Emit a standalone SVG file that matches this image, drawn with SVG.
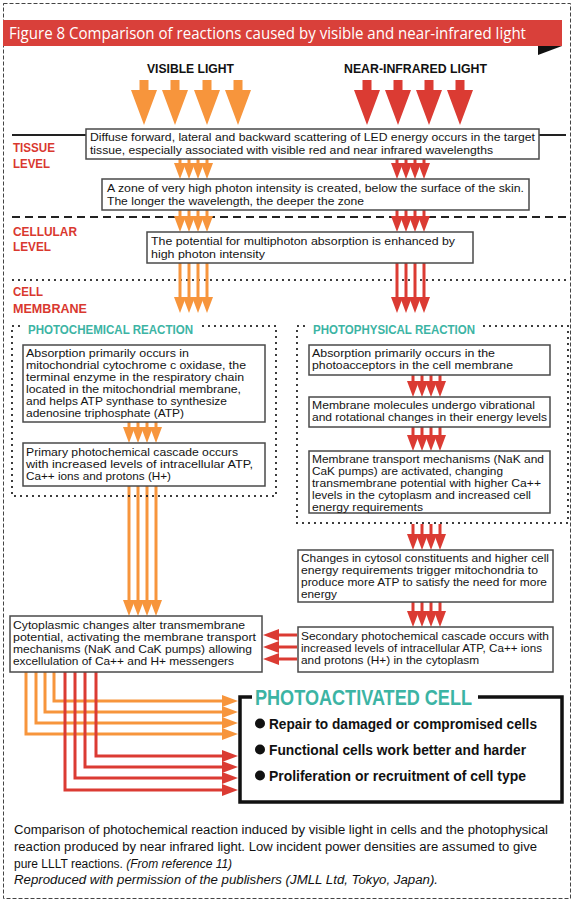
<svg xmlns="http://www.w3.org/2000/svg" width="574" height="904" viewBox="0 0 574 904">
<style>
.bg{fill:#fff}
.frame{fill:none;stroke:#444;stroke-width:1;stroke-dasharray:4 2}
.box{fill:#fff;stroke:#4a4a4a;stroke-width:1.5}
.t{font-family:"Liberation Sans",Arial,sans-serif;font-size:11px;fill:#141414}
.t2{font-family:"Liberation Sans",Arial,sans-serif;font-size:11.5px;fill:#141414}
.lvl{font-family:"Liberation Sans",Arial,sans-serif;font-weight:bold;font-size:13.5px;fill:#d9382f}
.hd{font-family:"Liberation Sans",Arial,sans-serif;font-weight:bold;font-size:13.5px;fill:#111}
.teal{font-family:"Liberation Sans",Arial,sans-serif;font-weight:bold;fill:#3cb4a4}
.bul{font-family:"Liberation Sans",Arial,sans-serif;font-weight:bold;font-size:14px;fill:#111}
.cap{font-family:"Liberation Sans",Arial,sans-serif;font-size:12px;fill:#111}
.dot{fill:none;stroke:#111;stroke-width:2.2;stroke-linecap:round;stroke-dasharray:0 6}
.dash{fill:none;stroke:#222;stroke-width:2;stroke-dasharray:8 5}
.big-o{fill:#f7953c}
.big-r{fill:#db3b33}
.ao{fill:none;stroke:#f7953c;stroke-width:3;marker-end:url(#mo)}
.ar{fill:none;stroke:#db3b33;stroke-width:3;marker-end:url(#mr)}
</style>
<defs>
<marker id="mo" viewBox="0 0 16 12" refX="3" refY="6" markerWidth="16" markerHeight="12" markerUnits="userSpaceOnUse" orient="auto"><path d="M0,0 L16,6 L0,12 z" fill="#f7953c"/></marker>
<marker id="mr" viewBox="0 0 16 12" refX="3" refY="6" markerWidth="16" markerHeight="12" markerUnits="userSpaceOnUse" orient="auto"><path d="M0,0 L16,6 L0,12 z" fill="#db3b33"/></marker>
</defs>
<rect class="bg" x="0" y="0" width="574" height="904"/>
<rect class="frame" x="3.5" y="3.5" width="567" height="895"/>

<g id="title">
<rect x="3" y="20" width="559" height="26" fill="#d9403a"/>
<polygon points="538,46 562,46 538,55" fill="#111"/>
<text x="9" y="39" font-family="'Open Sans','Liberation Sans',sans-serif" font-size="16" fill="#fff" textLength="517" lengthAdjust="spacingAndGlyphs">Figure 8 Comparison of reactions caused by visible and near-infrared light</text>
</g>

<g id="headings">
<text class="hd" x="147" y="73" textLength="87" lengthAdjust="spacingAndGlyphs">VISIBLE LIGHT</text>
<text class="hd" x="344" y="73" textLength="143" lengthAdjust="spacingAndGlyphs">NEAR-INFRARED LIGHT</text>
</g>

<g id="light-arrows">
<path class="big-o" d="M139.5,80h9v10h8.5l-13,35l-13,-35h8.5z"/>
<path class="big-o" d="M170.5,80h9v10h8.5l-13,35l-13,-35h8.5z"/>
<path class="big-o" d="M202.5,80h9v10h8.5l-13,35l-13,-35h8.5z"/>
<path class="big-o" d="M233.5,80h9v10h8.5l-13,35l-13,-35h8.5z"/>
<path class="big-r" d="M362.5,80h9v10h8.5l-13,35l-13,-35h8.5z"/>
<path class="big-r" d="M393.5,80h9v10h8.5l-13,35l-13,-35h8.5z"/>
<path class="big-r" d="M424.5,80h9v10h8.5l-13,35l-13,-35h8.5z"/>
<path class="big-r" d="M455.5,80h9v10h8.5l-13,35l-13,-35h8.5z"/>
</g>

<g id="level-lines">
<line x1="12" y1="135" x2="566" y2="135" stroke="#222" stroke-width="2"/>
<line class="dash" x1="12" y1="217" x2="566" y2="217"/>
<line class="dot" x1="13" y1="280" x2="566" y2="280"/>
</g>

<g id="level-labels">
<text class="lvl" x="13" y="152" textLength="42" lengthAdjust="spacingAndGlyphs">TISSUE</text>
<text class="lvl" x="13" y="168" textLength="37" lengthAdjust="spacingAndGlyphs">LEVEL</text>
<text class="lvl" x="13" y="236" textLength="64" lengthAdjust="spacingAndGlyphs">CELLULAR</text>
<text class="lvl" x="13" y="251" textLength="38" lengthAdjust="spacingAndGlyphs">LEVEL</text>
<text class="lvl" x="13" y="296" textLength="30" lengthAdjust="spacingAndGlyphs">CELL</text>
<text class="lvl" x="13" y="313" textLength="74" lengthAdjust="spacingAndGlyphs">MEMBRANE</text>
</g>

<g id="connectors">
<line class="ao" x1="180" y1="159" x2="180" y2="166"/><line class="ao" x1="189" y1="159" x2="189" y2="166"/><line class="ao" x1="198" y1="159" x2="198" y2="166"/><line class="ao" x1="207" y1="159" x2="207" y2="166"/>
<line class="ar" x1="397" y1="159" x2="397" y2="166"/><line class="ar" x1="406" y1="159" x2="406" y2="166"/><line class="ar" x1="415" y1="159" x2="415" y2="166"/><line class="ar" x1="424" y1="159" x2="424" y2="166"/>
<line class="ao" x1="180" y1="210" x2="180" y2="219"/><line class="ao" x1="189" y1="210" x2="189" y2="219"/><line class="ao" x1="198" y1="210" x2="198" y2="219"/><line class="ao" x1="207" y1="210" x2="207" y2="219"/>
<line class="ar" x1="397" y1="210" x2="397" y2="219"/><line class="ar" x1="406" y1="210" x2="406" y2="219"/><line class="ar" x1="415" y1="210" x2="415" y2="219"/><line class="ar" x1="424" y1="210" x2="424" y2="219"/>
<line class="ao" x1="180" y1="263" x2="180" y2="300"/><line class="ao" x1="189" y1="263" x2="189" y2="300"/><line class="ao" x1="198" y1="263" x2="198" y2="300"/><line class="ao" x1="207" y1="263" x2="207" y2="300"/>
<line class="ar" x1="397" y1="263" x2="397" y2="300"/><line class="ar" x1="406" y1="263" x2="406" y2="300"/><line class="ar" x1="415" y1="263" x2="415" y2="300"/><line class="ar" x1="424" y1="263" x2="424" y2="300"/>
<line class="ao" x1="129" y1="422" x2="129" y2="430"/><line class="ao" x1="138" y1="422" x2="138" y2="430"/><line class="ao" x1="147" y1="422" x2="147" y2="430"/><line class="ao" x1="156" y1="422" x2="156" y2="430"/>
<line class="ao" x1="129" y1="486" x2="129" y2="603"/><line class="ao" x1="138" y1="486" x2="138" y2="603"/><line class="ao" x1="147" y1="486" x2="147" y2="603"/><line class="ao" x1="156" y1="486" x2="156" y2="603"/>
<line class="ar" x1="413" y1="375" x2="413" y2="384"/><line class="ar" x1="422" y1="375" x2="422" y2="384"/><line class="ar" x1="431" y1="375" x2="431" y2="384"/><line class="ar" x1="440" y1="375" x2="440" y2="384"/>
<line class="ar" x1="413" y1="427" x2="413" y2="438"/><line class="ar" x1="422" y1="427" x2="422" y2="438"/><line class="ar" x1="431" y1="427" x2="431" y2="438"/><line class="ar" x1="440" y1="427" x2="440" y2="438"/>
<line class="ar" x1="413" y1="524" x2="413" y2="537"/><line class="ar" x1="422" y1="524" x2="422" y2="537"/><line class="ar" x1="431" y1="524" x2="431" y2="537"/><line class="ar" x1="440" y1="524" x2="440" y2="537"/>
<line class="ar" x1="413" y1="602" x2="413" y2="614"/><line class="ar" x1="422" y1="602" x2="422" y2="614"/><line class="ar" x1="431" y1="602" x2="431" y2="614"/><line class="ar" x1="440" y1="602" x2="440" y2="614"/>
<line class="ar" x1="297" y1="635" x2="276" y2="635"/><line class="ar" x1="297" y1="647" x2="276" y2="647"/><line class="ar" x1="297" y1="659" x2="276" y2="659"/>
<path class="ao" d="M54,672V701H225"/>
<path class="ao" d="M45,672V712H225"/>
<path class="ao" d="M36,672V723H225"/>
<path class="ao" d="M26,672V734H225"/>
<path class="ar" d="M96,672V756H225"/>
<path class="ar" d="M85,672V767H225"/>
<path class="ar" d="M75,672V778H225"/>
<path class="ar" d="M65,672V790H225"/>
</g>

<g id="n-scatter">
<rect class="box" x="86" y="129" width="453" height="30"/>
<text class="t" x="90" y="141" textLength="445" lengthAdjust="spacingAndGlyphs">Diffuse forward, lateral and backward scattering of LED energy occurs in the target</text>
<text class="t" x="90" y="154" textLength="403" lengthAdjust="spacingAndGlyphs">tissue, especially associated with visible red and near infrared wavelengths</text>
</g>

<g id="n-zone">
<rect class="box" x="102" y="179" width="427" height="31"/>
<text class="t" x="107" y="192" textLength="417" lengthAdjust="spacingAndGlyphs">A zone of very high photon intensity is created, below the surface of the skin.</text>
<text class="t" x="107" y="205" textLength="257" lengthAdjust="spacingAndGlyphs">The longer the wavelength, the deeper the zone</text>
</g>

<g id="n-multiphoton">
<rect class="box" x="147" y="232" width="326" height="31"/>
<text class="t" x="151" y="245" textLength="304" lengthAdjust="spacingAndGlyphs">The potential for multiphoton absorption is enhanced by</text>
<text class="t" x="151" y="258" textLength="114" lengthAdjust="spacingAndGlyphs">high photon intensity</text>
</g>

<g id="photochemical">
<path class="dot" d="M19,326H12V496H276V326H197"/>
<text class="teal" x="28" y="334" font-size="12.5" textLength="165" lengthAdjust="spacingAndGlyphs">PHOTOCHEMICAL REACTION</text>
</g>

<g id="n-pc-absorption">
<rect class="box" x="23" y="345" width="242" height="77"/>
<text class="t2" x="26" y="357" textLength="163" lengthAdjust="spacingAndGlyphs">Absorption primarily occurs in</text>
<text class="t2" x="26" y="369" textLength="220" lengthAdjust="spacingAndGlyphs">mitochondrial cytochrome c oxidase, the</text>
<text class="t2" x="26" y="381" textLength="218" lengthAdjust="spacingAndGlyphs">terminal enzyme in the respiratory chain</text>
<text class="t2" x="26" y="393" textLength="215" lengthAdjust="spacingAndGlyphs">located in the mitochondrial membrane,</text>
<text class="t2" x="26" y="405" textLength="201" lengthAdjust="spacingAndGlyphs">and helps ATP synthase to synthesize</text>
<text class="t2" x="26" y="417" textLength="158" lengthAdjust="spacingAndGlyphs">adenosine triphosphate (ATP)</text>
</g>

<g id="n-pc-cascade">
<rect class="box" x="23" y="443" width="242" height="43"/>
<text class="t2" x="26" y="456" textLength="212" lengthAdjust="spacingAndGlyphs">Primary photochemical cascade occurs</text>
<text class="t2" x="26" y="468" textLength="227" lengthAdjust="spacingAndGlyphs">with increased levels of intracellular ATP,</text>
<text class="t2" x="26" y="480" textLength="145" lengthAdjust="spacingAndGlyphs">Ca++ ions and protons (H+)</text>
</g>

<g id="photophysical">
<path class="dot" d="M304,326H297V523H568V326H480"/>
<text class="teal" x="313" y="334" font-size="12.5" textLength="162" lengthAdjust="spacingAndGlyphs">PHOTOPHYSICAL REACTION</text>
</g>

<g id="n-pp-absorption">
<rect class="box" x="309" y="345" width="241" height="30"/>
<text class="t2" x="312" y="357" textLength="183" lengthAdjust="spacingAndGlyphs">Absorption primarily occurs in the</text>
<text class="t2" x="312" y="369" textLength="201" lengthAdjust="spacingAndGlyphs">photoacceptors in the cell membrane</text>
</g>

<g id="n-pp-vibration">
<rect class="box" x="309" y="397" width="241" height="30"/>
<text class="t2" x="312" y="409" textLength="223" lengthAdjust="spacingAndGlyphs">Membrane molecules undergo vibrational</text>
<text class="t2" x="312" y="421" textLength="235" lengthAdjust="spacingAndGlyphs">and rotational changes in their energy levels</text>
</g>

<g id="n-pp-transport">
<rect class="box" x="309" y="451" width="241" height="62"/>
<text class="t2" x="312" y="463" textLength="232" lengthAdjust="spacingAndGlyphs">Membrane transport mechanisms (NaK and</text>
<text class="t2" x="312" y="475" textLength="191" lengthAdjust="spacingAndGlyphs">CaK pumps) are activated, changing</text>
<text class="t2" x="312" y="487" textLength="229" lengthAdjust="spacingAndGlyphs">transmembrane potential with higher Ca++</text>
<text class="t2" x="312" y="499" textLength="219" lengthAdjust="spacingAndGlyphs">levels in the cytoplasm and increased cell</text>
<text class="t2" x="312" y="511" textLength="111" lengthAdjust="spacingAndGlyphs">energy requirements</text>
</g>

<g id="n-cytosol">
<rect class="box" x="298" y="550" width="255" height="52"/>
<text class="t2" x="301" y="562" textLength="248" lengthAdjust="spacingAndGlyphs">Changes in cytosol constituents and higher cell</text>
<text class="t2" x="301" y="574" textLength="237" lengthAdjust="spacingAndGlyphs">energy requirements trigger mitochondria to</text>
<text class="t2" x="301" y="586" textLength="246" lengthAdjust="spacingAndGlyphs">produce more ATP to satisfy the need for more</text>
<text class="t2" x="301" y="598" textLength="36" lengthAdjust="spacingAndGlyphs">energy</text>
</g>

<g id="n-secondary">
<rect class="box" x="298" y="627" width="255" height="45"/>
<text class="t2" x="301" y="640" textLength="248" lengthAdjust="spacingAndGlyphs">Secondary photochemical cascade occurs with</text>
<text class="t2" x="301" y="652" textLength="241" lengthAdjust="spacingAndGlyphs">increased levels of intracellular ATP, Ca++ ions</text>
<text class="t2" x="301" y="664" textLength="178" lengthAdjust="spacingAndGlyphs">and protons (H+) in the cytoplasm</text>
</g>

<g id="n-cytoplasmic">
<rect class="box" x="10" y="616" width="252" height="56"/>
<text class="t2" x="13" y="629" textLength="232" lengthAdjust="spacingAndGlyphs">Cytoplasmic changes alter transmembrane</text>
<text class="t2" x="13" y="641" textLength="243" lengthAdjust="spacingAndGlyphs">potential, activating the membrane transport</text>
<text class="t2" x="13" y="653" textLength="239" lengthAdjust="spacingAndGlyphs">mechanisms (NaK and CaK pumps) allowing</text>
<text class="t2" x="13" y="665" textLength="221" lengthAdjust="spacingAndGlyphs">excellulation of Ca++ and H+ messengers</text>
</g>

<g id="n-photoactivated">
<path d="M252,697H240V802H562V697H478" fill="none" stroke="#111" stroke-width="3.5"/>
<text class="teal" x="255" y="705" font-size="22" textLength="217" lengthAdjust="spacingAndGlyphs">PHOTOACTIVATED CELL</text>
<circle cx="260" cy="723.5" r="5" fill="#111"/>
<text class="bul" x="269" y="728.5" textLength="268" lengthAdjust="spacingAndGlyphs">Repair to damaged or compromised cells</text>
<circle cx="260" cy="749.5" r="5" fill="#111"/>
<text class="bul" x="269" y="754.5" textLength="257" lengthAdjust="spacingAndGlyphs">Functional cells work better and harder</text>
<circle cx="260" cy="775.5" r="5" fill="#111"/>
<text class="bul" x="269" y="780.5" textLength="257" lengthAdjust="spacingAndGlyphs">Proliferation or recruitment of cell type</text>
</g>

<g id="caption">
<text class="cap" x="14" y="834" textLength="534" lengthAdjust="spacingAndGlyphs">Comparison of photochemical reaction induced by visible light in cells and the photophysical</text>
<text class="cap" x="14" y="851" textLength="523" lengthAdjust="spacingAndGlyphs">reaction produced by near infrared light. Low incident power densities are assumed to give</text>
<text class="cap" x="14" y="868">pure LLLT reactions. <tspan font-style="italic">(From reference 11)</tspan></text>
<text class="cap" x="14" y="884" font-style="italic" textLength="424" lengthAdjust="spacingAndGlyphs">Reproduced with permission of the publishers (JMLL Ltd, Tokyo, Japan).</text>
</g>
</svg>
